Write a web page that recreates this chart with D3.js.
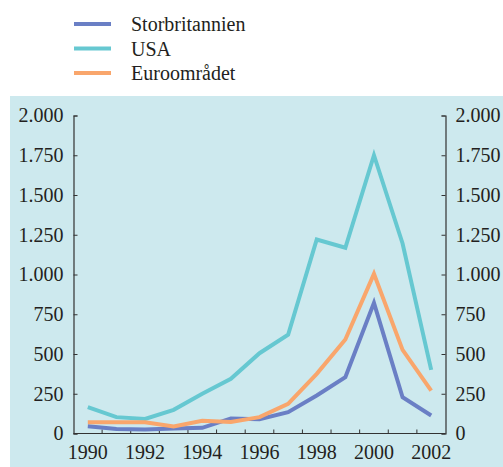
<!DOCTYPE html>
<html>
<head>
<meta charset="utf-8">
<script src="https://cdn.jsdelivr.net/npm/d3@7"></script>
<style>
  html, body { margin: 0; padding: 0; background: #ffffff; }
  svg { display: block; }
  text { font-family: "Liberation Serif", "Times New Roman", serif; fill: #231f20; }
</style>
</head>
<body>
<svg id="chart" width="503" height="467"></svg>
<script>
// Years on the x axis
const years = [1990, 1991, 1992, 1993, 1994, 1995, 1996, 1997, 1998, 1999, 2000, 2001, 2002];
const yearLabels = [1990, 1992, 1994, 1996, 1998, 2000, 2002];

// Series values
const storbritannien = [46, 29, 25, 31, 36, 95, 90, 134, 239, 354, 822, 228, 113];
const usa = [166, 103, 92, 149, 250, 344, 505, 621, 1220, 1168, 1750, 1195, 400];
const euroomradet = [71, 71, 70, 44, 80, 72, 103, 187, 375, 591, 1004, 526, 270];

// Y-axis ticks
const yTicks = [0, 250, 500, 750, 1000, 1250, 1500, 1750, 2000];

const seriesNames = ["Storbritannien", "USA", "Euroområdet"];
const seriesValues = [storbritannien, usa, euroomradet];
const colors = ["#6a7fc5", "#66c8d1", "#f9a66c"];

const svg = d3.select("#chart");

// Panel background
svg.append("rect")
  .attr("x", 10).attr("y", 96)
  .attr("width", 493).attr("height", 371)
  .attr("fill", "#cde9ee");

const plotLeft = 73.5, plotRight = 445.5, plotTop = 115.5, plotBottom = 433.5;

const x = d3.scaleBand().domain(years).range([plotLeft, plotRight]).paddingInner(0).paddingOuter(0);
const y = d3.scaleLinear().domain([0, 2000]).range([plotBottom, plotTop]);

const fmt = v => d3.format(",")(v).replace(/,/g, ".");

// Left axis
const yLeft = d3.axisLeft(y).tickValues(yTicks).tickSize(-4).tickPadding(10).tickFormat(fmt);
const gl = svg.append("g").attr("transform", `translate(${plotLeft},0)`).call(yLeft);
// Right axis
const yRight = d3.axisRight(y).tickValues(yTicks).tickSize(-4).tickPadding(10).tickFormat(fmt);
const gr = svg.append("g").attr("transform", `translate(${plotRight},0)`).call(yRight);

// Bottom axis: ticks at band boundaries, labels at band centres
const boundaries = years.slice(1);
const gb = svg.append("g").attr("transform", `translate(0,${plotBottom})`);
gb.append("line")
  .attr("x1", plotLeft).attr("x2", plotRight)
  .attr("stroke", "#333").attr("stroke-width", 1.2);
gb.selectAll("line.tick")
  .data(boundaries)
  .join("line")
  .attr("class", "tick")
  .attr("x1", d => x(d)).attr("x2", d => x(d))
  .attr("y1", 0).attr("y2", -4)
  .attr("stroke", "#333").attr("stroke-width", 1);
gb.selectAll("text")
  .data(yearLabels)
  .join("text")
  .attr("x", d => x(d) + x.bandwidth() / 2)
  .attr("y", 25)
  .attr("text-anchor", "middle")
  .attr("font-size", 20)
  .text(d => d);

[gl, gr].forEach(g => {
  g.attr("font-family", null);
  g.select(".domain").attr("stroke", "#333").attr("stroke-width", 1.2);
  g.selectAll(".tick line").attr("stroke", "#333");
  g.selectAll(".tick text")
    .attr("font-size", 20)
    .attr("font-family", "Liberation Serif, Times New Roman, serif")
    .attr("fill", "#231f20");
});

// Lines
const line = d3.line()
  .x((d, i) => x(years[i]) + x.bandwidth() / 2)
  .y(d => y(d));

seriesValues.forEach((vals, k) => {
  svg.append("path")
    .datum(vals)
    .attr("fill", "none")
    .attr("stroke", colors[k])
    .attr("stroke-width", 4)
    .attr("stroke-linejoin", "miter")
    .attr("d", line);
});

// Legend
const legend = svg.append("g");
seriesNames.forEach((name, k) => {
  const cy = 24 + k * 24.5;
  legend.append("line")
    .attr("x1", 74).attr("x2", 111)
    .attr("y1", cy).attr("y2", cy)
    .attr("stroke", colors[k]).attr("stroke-width", 4);
  legend.append("text")
    .attr("x", 131).attr("y", cy + 7)
    .attr("font-size", 20)
    .text(name);
});
</script>
</body>
</html>
